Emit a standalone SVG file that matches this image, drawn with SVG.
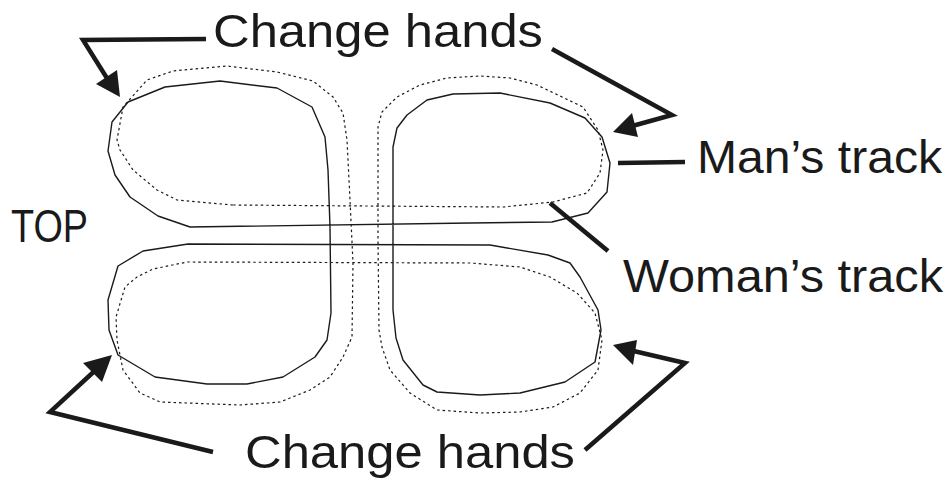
<svg xmlns="http://www.w3.org/2000/svg" width="951" height="479" viewBox="0 0 951 479">
<style>
.lbl{font-family:"Liberation Sans",Arial,sans-serif;font-size:47px;fill:#1a1a1a}
.man{fill:none;stroke:#1a1a1a;stroke-width:1.4;stroke-linejoin:round}
.wom{fill:none;stroke:#1a1a1a;stroke-width:1.2;stroke-dasharray:2.5 3}
.ptr{fill:none;stroke:#1a1a1a;stroke-width:4.5;stroke-linejoin:miter}
.head{fill:#1a1a1a;stroke:none}
</style>
<rect width="951" height="479" fill="#fff"/>
<g id="mans-track">
<path class="man" d="M190,227 L158,216 L130,197 L115,175 L108,151 L112,122 L128,102 L165,87 L220,81 L277,88 L312,107 L325,137 L328,170 L330,227 L331,313 L327,340 L315,357 L283,377 L247,384 L207,384 L155,377 L118,355 L109,330 L108,300 L118,266 L143,251 L188,244 L490,245 L548,255 L570,263 L580,277 L598,310 L601,330 L595,362 L565,382 L520,393 L480,395 L437,392 L423,385 L403,360 L396,338 L393,310 L393,147 L397,128 L407,115 L427,100 L453,94 L500,93 L550,103 L585,118 L602,137 L610,163 L607,192 L588,213 L552,222 L470,223 Z"/>
</g>
<g id="womans-track">
<path class="wom" d="M233,205 L177,200 L157,190 L133,170 L120,150 L117,140 L123,107 L147,80 L173,71 L227,66 L277,72 L313,81 L333,97 L343,113 L347,140 L350,200 L353,263 L352,337 L343,357 L330,377 L310,390 L280,402 L240,405 L160,402 L140,393 L123,370 L117,340 L116,317 L125,287 L137,277 L153,269 L187,262 L470,263 L520,267 L550,277 L577,293 L595,313 L602,340 L598,370 L580,393 L553,407 L520,412 L480,413 L437,410 L410,393 L390,370 L382,347 L379,330 L378,240 L378,127 L382,112 L397,97 L420,85 L447,78 L480,76 L510,78 L537,85 L583,107 L598,130 L603,150 L600,173 L587,193 L553,202 L503,207 Z"/>
</g>
<g id="connectors">
<polyline class="ptr" points="206,39 83,40 110,83"/>
<polygon class="head" points="120,97 96,84 117,70"/>
<polyline class="ptr" points="552,49 672,115 625,128"/>
<polygon class="head" points="613,132 632,113 638,137"/>
<line class="ptr" x1="618" y1="163" x2="685" y2="162"/>
<line class="ptr" x1="550" y1="203" x2="608" y2="251"/>
<polyline class="ptr" points="213,452 50,412 100,366"/>
<polygon class="head" points="112,355 83,363 102,382"/>
<polyline class="ptr" points="585,450 685,363 625,349"/>
<polygon class="head" points="613,345 637,340 633,365"/>
</g>
<g id="label-change-top"><text class="lbl" x="213" y="47" textLength="330" lengthAdjust="spacingAndGlyphs">Change hands</text></g>
<g id="label-man"><text class="lbl" x="697" y="173" textLength="245" lengthAdjust="spacingAndGlyphs">Man’s track</text></g>
<g id="label-woman"><text class="lbl" x="623" y="292" textLength="320" lengthAdjust="spacingAndGlyphs">Woman’s track</text></g>
<g id="label-top"><text class="lbl" x="11" y="242" textLength="77" lengthAdjust="spacingAndGlyphs">TOP</text></g>
<g id="label-change-bottom"><text class="lbl" x="245" y="468" textLength="330" lengthAdjust="spacingAndGlyphs">Change hands</text></g>
</svg>
